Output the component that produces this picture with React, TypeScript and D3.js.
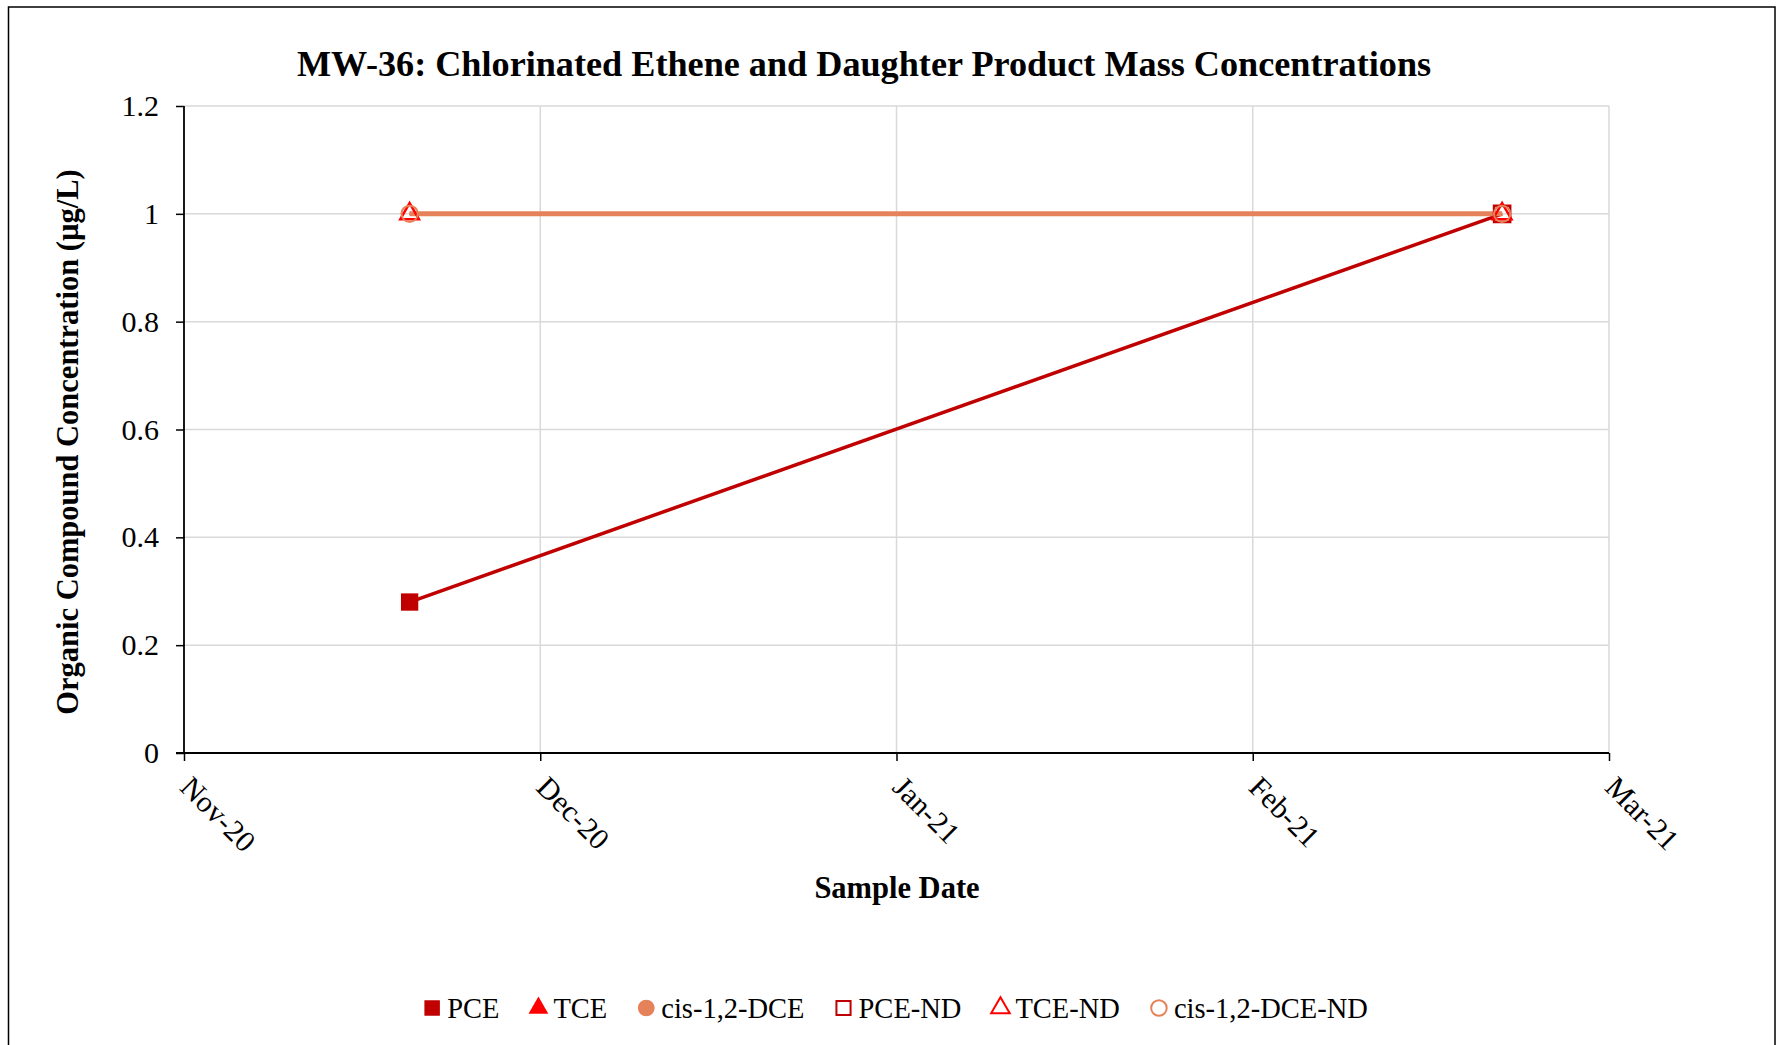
import React, { useEffect, useRef } from "react";
import * as d3 from "d3";

// ---- data ----
const sampleDates = ["2020-11-20", "2021-02-20"];
const pceValues = [0.28, 1.0];
const pceNonDetect = [false, true];
const tceValues = [1.0, 1.0];
const tceNonDetect = [true, true];
const dceValues = [1.0, 1.0];
const dceNonDetect = [true, true];
const xTickLabels = ["Nov-20", "Dec-20", "Jan-21", "Feb-21", "Mar-21"];
const yTicks = [0, 0.2, 0.4, 0.6, 0.8, 1.0, 1.2];
const legendLabels = ["PCE", "TCE", "cis-1,2-DCE", "PCE-ND", "TCE-ND", "cis-1,2-DCE-ND"];

const TITLE = "MW-36: Chlorinated Ethene and Daughter Product Mass Concentrations";
const Y_LABEL = "Organic Compound Concentration (µg/L)";
const X_LABEL = "Sample Date";

const W = 1783;
const H = 1045;
const FONT = "'Liberation Serif', 'Times New Roman', serif";
const C_PCE = "#C00000";
const C_TCE = "#FF0000";
const C_DCE = "#E6825A";

export default function App() {
  const ref = useRef<SVGSVGElement | null>(null);

  useEffect(() => {
    const svg = d3.select(ref.current);
    svg.selectAll("*").remove();

    const left = 184, right = 1609, top = 106, bottom = 753;
    const parse = d3.timeParse("%Y-%m-%d");
    const start = parse("2020-11-01")!;
    const end = d3.timeDay.offset(start, 120);
    const x = d3.scaleTime().domain([start, end]).range([left, right]);
    const y = d3.scaleLinear().domain([0, 1.2]).range([bottom, top]);
    const tickDates = xTickLabels.map((_, i) => d3.timeDay.offset(start, i * 30));
    const dates = sampleDates.map((s) => parse(s)!);

    // frame
    svg.append("rect").attr("x", 8.5).attr("y", 7).attr("width", 1766.5).attr("height", 1060)
      .attr("fill", "white").attr("stroke", "#000").attr("stroke-width", 1.5);

    // title
    svg.append("text").attr("x", 864).attr("y", 76).attr("text-anchor", "middle")
      .attr("font-family", FONT).attr("font-weight", "bold").attr("font-size", 36.2)
      .text(TITLE);

    // gridlines
    const g = svg.append("g");
    g.selectAll("line.hg").data(yTicks.filter((t) => t > 0)).join("line")
      .attr("x1", left).attr("x2", right).attr("y1", (d) => y(d)).attr("y2", (d) => y(d))
      .attr("stroke", "#D9D9D9").attr("stroke-width", 1.5);
    g.selectAll("line.vg").data(tickDates.slice(1)).join("line")
      .attr("x1", (d) => x(d)).attr("x2", (d) => x(d)).attr("y1", top).attr("y2", bottom)
      .attr("stroke", "#D9D9D9").attr("stroke-width", 1.5);

    // y axis
    const yAxis = d3.axisLeft(y).tickValues(yTicks).tickSize(8).tickPadding(17)
      .tickFormat((d) => d3.format("")(+d));
    const ya = svg.append("g").attr("transform", `translate(${left},0)`).call(yAxis);
    ya.select(".domain").attr("stroke", "#000").attr("stroke-width", 1.8).attr("d", `M0,${top}V${bottom}`);
    ya.selectAll(".tick line").attr("stroke", "#000").attr("stroke-width", 1.5);
    ya.selectAll(".tick text").attr("font-family", FONT).attr("font-size", 30).attr("fill", "#000");

    // x axis
    const xAxis = d3.axisBottom(x).tickValues(tickDates).tickSize(8)
      .tickFormat((_, i) => xTickLabels[i]);
    const xa = svg.append("g").attr("transform", `translate(0,${bottom})`).call(xAxis);
    xa.select(".domain").attr("stroke", "#000").attr("stroke-width", 1.8).attr("d", `M${left - 8},0H${right}`);
    xa.selectAll(".tick line").attr("stroke", "#000").attr("stroke-width", 1.5);
    xa.selectAll(".tick text").attr("font-family", FONT).attr("font-size", 30).attr("fill", "#000")
      .attr("text-anchor", "start").attr("y", 0).attr("dy", 0)
      .attr("transform", "translate(-6,36) rotate(45)");

    // axis titles
    svg.append("text").attr("transform", `translate(78,442) rotate(-90)`).attr("text-anchor", "middle")
      .attr("font-family", FONT).attr("font-weight", "bold").attr("font-size", 30.5).text(Y_LABEL);
    svg.append("text").attr("x", 897).attr("y", 898).attr("text-anchor", "middle")
      .attr("font-family", FONT).attr("font-weight", "bold").attr("font-size", 30.5).text(X_LABEL);

    // lines
    const line = d3.line<number>().x((_, i) => x(dates[i])).y((d) => y(d));
    svg.append("path").attr("d", line(pceValues)).attr("fill", "none").attr("stroke", C_PCE).attr("stroke-width", 3.5);
    svg.append("path").attr("d", line(tceValues)).attr("fill", "none").attr("stroke", C_TCE).attr("stroke-width", 3);
    svg.append("path").attr("d", line(dceValues)).attr("fill", "none").attr("stroke", C_DCE).attr("stroke-width", 5);

    const sq = d3.symbol().type(d3.symbolSquare).size(300);
    const tri = d3.symbol().type(d3.symbolTriangle).size(150);
    const cir = d3.symbol().type(d3.symbolCircle).size(210);

    const drawMarkers = (vals: number[], nd: boolean[], wantND: boolean, sym: any, color: string, sw: number) => {
      svg.append("g").selectAll("path").data(vals.map((v, i) => ({ v, i })).filter((d) => nd[d.i] === wantND))
        .join("path").attr("d", sym())
        .attr("transform", (d) => `translate(${x(dates[d.i])},${y(d.v)})`)
        .attr("fill", wantND ? "none" : color).attr("stroke", color).attr("stroke-width", wantND ? sw : 0);
    };
    drawMarkers(pceValues, pceNonDetect, false, sq, C_PCE, 2);
    drawMarkers(tceValues, tceNonDetect, false, tri, C_TCE, 2);
    drawMarkers(dceValues, dceNonDetect, false, cir, C_DCE, 2);
    drawMarkers(pceValues, pceNonDetect, true, d3.symbol().type(d3.symbolSquare).size(260), C_PCE, 2.5);
    drawMarkers(tceValues, tceNonDetect, true, tri, C_TCE, 2.5);
    drawMarkers(dceValues, dceNonDetect, true, cir, C_DCE, 2);

    // legend
    const legSyms = [
      { sym: d3.symbol().type(d3.symbolSquare).size(240), color: C_PCE, filled: true },
      { sym: d3.symbol().type(d3.symbolTriangle).size(170), color: C_TCE, filled: true },
      { sym: d3.symbol().type(d3.symbolCircle).size(220), color: C_DCE, filled: true },
      { sym: d3.symbol().type(d3.symbolSquare).size(200), color: C_PCE, filled: false },
      { sym: d3.symbol().type(d3.symbolTriangle).size(150), color: C_TCE, filled: false },
      { sym: d3.symbol().type(d3.symbolCircle).size(190), color: C_DCE, filled: false },
    ];
    const leg = svg.append("g");
    const ly = 1008;
    let cx = 0;
    legendLabels.forEach((lab, i) => {
      const s = legSyms[i];
      const it = leg.append("g");
      it.append("path").attr("d", s.sym()).attr("transform", `translate(${cx + 8},${ly})`)
        .attr("fill", s.filled ? s.color : "none").attr("stroke", s.color).attr("stroke-width", s.filled ? 0 : 2);
      const t = it.append("text").attr("x", cx + 23).attr("y", ly + 10).attr("font-family", FONT)
        .attr("font-size", 28.5).text(lab);
      const w = (t.node() as SVGTextElement).getComputedTextLength();
      cx += 23 + w + 31;
    });
    const total = cx - 31;
    leg.attr("transform", `translate(${896 - total / 2},0)`);
  }, []);

  return (
    <svg ref={ref} width={W} height={H} style={{ position: "absolute", left: 0, top: 0, background: "white" }} />
  );
}
